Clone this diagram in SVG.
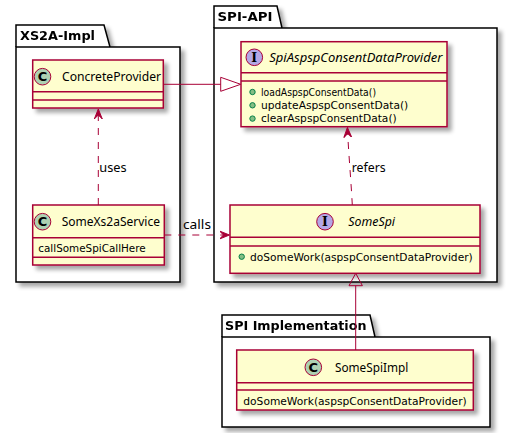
<svg xmlns="http://www.w3.org/2000/svg" width="512" height="433" viewBox="0 0 512 433">
  <defs>
    <filter id="shadow" x="-10%" y="-10%" width="130%" height="130%">
      <feGaussianBlur in="SourceAlpha" stdDeviation="2.2"/>
      <feOffset dx="3.5" dy="3.5" result="b"/>
      <feComponentTransfer><feFuncA type="linear" slope="0.35"/></feComponentTransfer>
      <feMerge><feMergeNode/><feMergeNode in="SourceGraphic"/></feMerge>
    </filter>
    <marker id="arrow" viewBox="0 0 10 10" refX="10" refY="5" markerWidth="10" markerHeight="10" markerUnits="userSpaceOnUse" orient="auto">
      <path d="M0,1 L10,5 L0,9 L4,5 Z" fill="#A80036" stroke="#A80036" stroke-width="1"/>
    </marker>
  </defs>
  <style>
    .pkg { fill: #FFFFFF; stroke: #000000; stroke-width: 1.5; }
    .pkgtitle { font-family: "DejaVu Sans", sans-serif; font-size: 12.5px; font-weight: bold; fill: #000000; }
    .cls { fill: #FEFECE; stroke: #A80036; stroke-width: 1.5; }
    .sep { stroke: #A80036; stroke-width: 1.5; }
    .name { font-family: "Noto Sans", "DejaVu Sans", sans-serif; font-size: 12.5px; fill: #000000; }
    .iname { font-family: "Noto Sans", "DejaVu Sans", sans-serif; font-size: 12.5px; font-style: italic; fill: #000000; }
    .member { font-family: "DejaVu Sans", sans-serif; font-size: 11px; fill: #000000; }
    .label { font-family: "Noto Sans", "DejaVu Sans", sans-serif; font-size: 12.5px; fill: #000000; }
    .circC { fill: #ADD1B2; stroke: #A80036; stroke-width: 1; }
    .circI { fill: #B4A7E5; stroke: #A80036; stroke-width: 1; }
    .glyph { font-family: "DejaVu Sans", sans-serif; font-size: 13px; font-weight: bold; fill: #000000; text-anchor: middle; }
    .glyphI { font-family: "DejaVu Serif", serif; font-size: 12.5px; font-weight: bold; fill: #000000; text-anchor: middle; }
    .pub { fill: #84BE84; stroke: #038048; stroke-width: 1; }
    .link { fill: none; stroke: #A80036; stroke-width: 1; }
    .dash { stroke-dasharray: 7,7; }
  </style>

  <!-- packages -->
  <g id="pkg-xs2a-impl" filter="url(#shadow)">
    <path class="pkg" d="M16,47 L16,25 L104,25 L110,47"/>
    <rect class="pkg" x="16" y="47" width="164" height="235"/>
    <text class="pkgtitle" x="20" y="40" textLength="75" lengthAdjust="spacingAndGlyphs">XS2A-Impl</text>
  </g>
  <g id="pkg-spi-api" filter="url(#shadow)">
    <path class="pkg" d="M214,28 L214,6 L277,6 L282,28"/>
    <rect class="pkg" x="214" y="28" width="283" height="254"/>
    <text class="pkgtitle" x="217.5" y="21" textLength="55" lengthAdjust="spacingAndGlyphs">SPI-API</text>
  </g>
  <g id="pkg-spi-implementation" filter="url(#shadow)">
    <path class="pkg" d="M222,337 L222,315 L370,315 L375,337"/>
    <rect class="pkg" x="222" y="337" width="268" height="90"/>
    <text class="pkgtitle" x="225" y="330" textLength="141.5" lengthAdjust="spacingAndGlyphs">SPI Implementation</text>
  </g>

  <!-- classes -->
  <g id="ConcreteProvider">
    <rect class="cls" x="32.7" y="60" width="130.6" height="48" filter="url(#shadow)"/>
    <line class="sep" x1="32.7" y1="91.7" x2="163.3" y2="91.7"/>
    <line class="sep" x1="32.7" y1="100" x2="163.3" y2="100"/>
    <circle class="circC" cx="42.5" cy="76.7" r="8.3"/>
    <text class="glyph" x="42.5" y="81.4">C</text>
    <text class="name" x="62" y="81" textLength="99" lengthAdjust="spacingAndGlyphs">ConcreteProvider</text>
  </g>

  <g id="SomeXs2aService">
    <rect class="cls" x="32.7" y="205" width="131.6" height="60" filter="url(#shadow)"/>
    <line class="sep" x1="32.7" y1="237.7" x2="164.3" y2="237.7"/>
    <line class="sep" x1="32.7" y1="257.3" x2="164.3" y2="257.3"/>
    <circle class="circC" cx="42.5" cy="221.7" r="8.3"/>
    <text class="glyph" x="42.5" y="226.4">C</text>
    <text class="name" x="61.7" y="226" textLength="98.3" lengthAdjust="spacingAndGlyphs">SomeXs2aService</text>
    <text class="member" x="38.3" y="252" textLength="107.4" lengthAdjust="spacingAndGlyphs">callSomeSpiCallHere</text>
  </g>

  <g id="SpiAspspConsentDataProvider">
    <rect class="cls" x="241" y="41.7" width="206" height="85" filter="url(#shadow)"/>
    <line class="sep" x1="241" y1="72.7" x2="447" y2="72.7"/>
    <line class="sep" x1="241" y1="81" x2="447" y2="81"/>
    <circle class="circI" cx="254.3" cy="57.3" r="8.3"/>
    <text class="glyphI" x="254.3" y="61.7">I</text>
    <text class="iname" x="269.3" y="62" textLength="173" lengthAdjust="spacingAndGlyphs">SpiAspspConsentDataProvider</text>
    <circle class="pub" cx="252.5" cy="92" r="2.7"/>
    <text class="member" x="261" y="95.8" textLength="115" lengthAdjust="spacingAndGlyphs">loadAspspConsentData()</text>
    <circle class="pub" cx="252.5" cy="105.3" r="2.7"/>
    <text class="member" x="261" y="109.1" textLength="147.3" lengthAdjust="spacingAndGlyphs">updateAspspConsentData()</text>
    <circle class="pub" cx="252.5" cy="118.6" r="2.7"/>
    <text class="member" x="261" y="122.4" textLength="135.7" lengthAdjust="spacingAndGlyphs">clearAspspConsentData()</text>
  </g>

  <g id="SomeSpi">
    <rect class="cls" x="230" y="205" width="250" height="68.3" filter="url(#shadow)"/>
    <line class="sep" x1="230" y1="237.3" x2="480" y2="237.3"/>
    <line class="sep" x1="230" y1="246" x2="480" y2="246"/>
    <circle class="circI" cx="325" cy="221.7" r="8.3"/>
    <text class="glyphI" x="325" y="226.1">I</text>
    <text class="iname" x="348.3" y="226" textLength="46.7" lengthAdjust="spacingAndGlyphs">SomeSpi</text>
    <circle class="pub" cx="241.7" cy="256.7" r="2.7"/>
    <text class="member" x="250" y="260.5" textLength="222.7" lengthAdjust="spacingAndGlyphs">doSomeWork(aspspConsentDataProvider)</text>
  </g>

  <g id="SomeSpiImpl">
    <rect class="cls" x="236.7" y="350" width="236.6" height="60" filter="url(#shadow)"/>
    <line class="sep" x1="236.7" y1="382.7" x2="473.3" y2="382.7"/>
    <line class="sep" x1="236.7" y1="390" x2="473.3" y2="390"/>
    <circle class="circC" cx="313.3" cy="367.3" r="8.3"/>
    <text class="glyph" x="313.3" y="372">C</text>
    <text class="name" x="335" y="371.7" textLength="73.3" lengthAdjust="spacingAndGlyphs">SomeSpiImpl</text>
    <text class="member" x="243.3" y="405" textLength="223.4" lengthAdjust="spacingAndGlyphs">doSomeWork(aspspConsentDataProvider)</text>
  </g>

  <!-- connectors -->
  <g id="connectors">
    <!-- ConcreteProvider realizes SpiAspspConsentDataProvider -->
    <line class="link" x1="163.3" y1="84.3" x2="220.7" y2="84.3"/>
    <polygon class="link" points="220.7,77.3 240.7,84.3 220.7,91.3" fill="none"/>

    <!-- SomeXs2aService uses ConcreteProvider -->
    <line class="link dash" x1="98.3" y1="205" x2="98.3" y2="109" marker-end="url(#arrow)"/>
    <text class="label" x="99.3" y="172" textLength="27.4" lengthAdjust="spacingAndGlyphs">uses</text>

    <!-- SomeXs2aService calls SomeSpi -->
    <line class="link dash" x1="164.3" y1="235" x2="229.5" y2="235" marker-end="url(#arrow)"/>
    <text class="label" x="183" y="229" textLength="28" lengthAdjust="spacingAndGlyphs">calls</text>

    <!-- SomeSpi refers to SpiAspspConsentDataProvider -->
    <path class="link dash" d="M352.3,205 C351,180 348.3,150 347.4,127.5" marker-end="url(#arrow)"/>
    <text class="label" x="351.7" y="172" textLength="34" lengthAdjust="spacingAndGlyphs">refers</text>

    <!-- SomeSpiImpl realizes SomeSpi -->
    <line class="link" x1="355.7" y1="350" x2="355.7" y2="285.7"/>
    <polygon class="link" points="349,285.7 355.7,273.3 362.4,285.7" fill="none"/>
  </g>
</svg>
